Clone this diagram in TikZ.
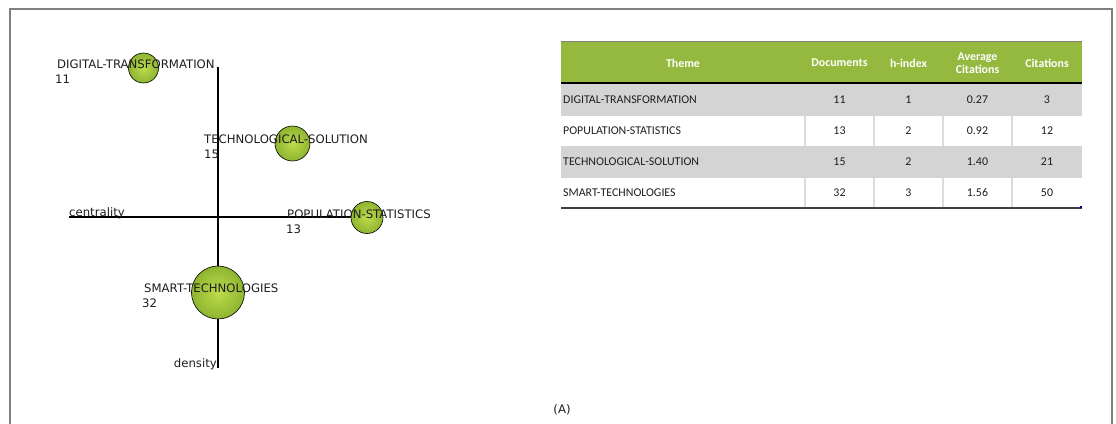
\documentclass[tikz,border=0pt]{standalone}
\usepackage{fontspec}
\setmainfont{DejaVu Sans}
\newfontfamily\tabfont{Carlito}
\definecolor{bubcore}{RGB}{190,220,76}
\definecolor{bubrim}{RGB}{142,180,48}
\definecolor{headgreen}{RGB}{148,185,62}
\definecolor{rowgray}{RGB}{211,212,211}
\definecolor{sepgray}{RGB}{220,220,220}
\definecolor{framegray}{RGB}{128,128,128}
\definecolor{inkgray}{RGB}{30,30,30}
\begin{document}
\begin{tikzpicture}[x=1pt,y=-1pt,
    bubble/.style={circle,draw=black,line width=0.6pt,inner color=bubcore,outer color=bubrim,inner sep=0pt},
    theme/.style={anchor=base west,inner sep=0pt,text=inkgray,font=\fontsize{11.7}{13}\selectfont},
    cell/.style={inner sep=0pt,text=inkgray,font=\tabfont\fontsize{11.9}{13}\selectfont},
    head/.style={inner sep=0pt,text=white,align=center,font=\tabfont\bfseries\fontsize{11.9}{13.5}\selectfont}]
    \useasboundingbox (0,0) rectangle (1116,423);
    \draw[framegray,line width=1.5pt](10,424)--(10,9)--(1112,9)--(1112,424);
    \coordinate (ytop) at (218,67);
    \coordinate (ybot) at (218,368);
    \coordinate (xleft) at (69,217);
    \coordinate (xright) at (366,217);
    \draw[line width=1.4pt] (ytop)--(ybot);
    \draw[line width=1.4pt] (xleft)--(xright);
    \node[bubble,minimum size=30pt] (dtb) at (143.5,68) {};
    \node[bubble,minimum size=35pt] (tsb) at (292.5,143.5) {};
    \node[bubble,minimum size=32pt] (psb) at (367,217.5) {};
    \node[bubble,minimum size=53pt] (stb) at (218,292.5) {};
    \node[theme] (dtl) at (57,68) {DIGITAL-TRANSFORMATION};
    \node[theme] (dtn) at (55,83) {11};
    \node[theme] (tsl) at (204,143) {TECHNOLOGICAL-SOLUTION};
    \node[theme] (tsn) at (204,158) {15};
    \node[theme] (psl) at (287,218) {POPULATION-STATISTICS};
    \node[theme] (psn) at (286,233) {13};
    \node[theme] (stl) at (144,292) {SMART-TECHNOLOGIES};
    \node[theme] (stn) at (142,307) {32};
    \node[theme] (cen) at (69,216.5) {centrality};
    \node[theme,anchor=base east] (den) at (217,367) {density};
    \node[theme,anchor=center] (cap) at (562,410) {(A)};
    \fill[headgreen](561,41)rectangle(1082,83);
    \fill[rowgray](561,83)rectangle(1082,116);
    \fill[rowgray](561,146)rectangle(1082,178);
    \foreach \x in {805,874,943,1012}
        \draw[sepgray,line width=1.2pt](\x,116)--(\x,146) (\x,178)--(\x,208);
    \draw[gray,line width=0.6pt](561,41)--(1082,41);
    \draw[black,line width=1.6pt](561,83)--(1082,83);
    \draw[black!75,line width=1.6pt](561,208)--(1082,208);
    \fill[blue!70!black](1080,206)rectangle(1082,208);
    \node[head] (hth) at (683,63) {Theme};
    \node[head] (hdo) at (839.5,63) {Documents};
    \node[head] (hhi) at (908.5,63) {h-index};
    \node[head] (hav) at (977.5,63) {Average\\Citations};
    \node[head] (hci) at (1047,63) {Citations};
    \foreach \name/\doc/\h/\avg/\cit [count=\i] in {DIGITAL-TRANSFORMATION/11/1/0.27/3,POPULATION-STATISTICS/13/2/0.92/12,TECHNOLOGICAL-SOLUTION/15/2/1.40/21,SMART-TECHNOLOGIES/32/3/1.56/50}{
        \node[cell,anchor=west] (th\i) at (563,69+31*\i) {\name};
        \node[cell] (do\i) at (839.5,69+31*\i) {\doc};
        \node[cell] (hi\i) at (908.5,69+31*\i) {\h};
        \node[cell] (av\i) at (977.5,69+31*\i) {\avg};
        \node[cell] (ci\i) at (1047,69+31*\i) {\cit};
    }
\end{tikzpicture}
\end{document}
